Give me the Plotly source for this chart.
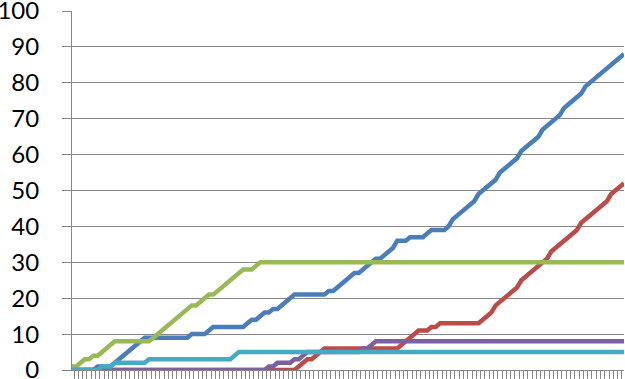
import plotly.graph_objects as go

categories = [str(i + 1) for i in range(130)]

series1 = [0, 0, 0, 0, 0, 0, 1, 1, 1, 1,
           2, 3, 4, 5, 6, 7, 8, 9, 9, 9,
           9, 9, 9, 9, 9, 9, 9, 9, 10, 10,
           10, 10, 11, 12, 12, 12, 12, 12, 12, 12,
           12, 13, 14, 14, 15, 16, 16, 17, 17, 18,
           19, 20, 21, 21, 21, 21, 21, 21, 21, 21,
           22, 22, 23, 24, 25, 26, 27, 27, 28, 29,
           30, 31, 31, 32, 33, 34, 36, 36, 36, 37,
           37, 37, 37, 38, 39, 39, 39, 39, 40, 42,
           43, 44, 45, 46, 47, 49, 50, 51, 52, 53,
           55, 56, 57, 58, 59, 61, 62, 63, 64, 65,
           67, 68, 69, 70, 71, 73, 74, 75, 76, 77,
           79, 80, 81, 82, 83, 84, 85, 86, 87, 88]

series2 = [0] * 53 + [1, 2, 3, 3, 4, 5, 6,
           6, 6, 6, 6, 6, 6, 6, 6, 6, 6,
           6, 6, 6, 6, 6, 6, 6, 7, 8, 9,
           10, 11, 11, 11, 12, 12, 13, 13, 13, 13,
           13, 13, 13, 13, 13, 13, 14, 15, 16, 18,
           19, 20, 21, 22, 23, 25, 26, 27, 28, 29,
           30, 31, 33, 34, 35, 36, 37, 38, 39, 41,
           42, 43, 44, 45, 46, 47, 49, 50, 51, 52]

series3 = [1, 1, 2, 3, 3, 4, 4, 5, 6, 7,
           8, 8, 8, 8, 8, 8, 8, 8, 8, 9,
           10, 11, 12, 13, 14, 15, 16, 17, 18, 18,
           19, 20, 21, 21, 22, 23, 24, 25, 26, 27,
           28, 28, 28, 29] + [30] * 86

series4 = [0] * 46 + [1, 1, 2, 2, 2, 2, 3, 3, 4, 5,
                      5, 5, 5, 5, 5, 5, 5, 5, 5, 5,
                      5, 5, 6, 6, 7] + [8] * 59

series5 = [0, 0, 0, 0, 0, 0, 0, 1, 1, 1,
           2, 2, 2, 2, 2, 2, 2, 2] + [3] * 20 + [4] + [5] * 91

names = ["Series1", "Series2", "Series3", "Series4", "Series5"]
colors = ["#4A7EBB", "#BE4B48", "#98B954", "#7D60A0", "#46AAC5"]
y_ticks = [0, 10, 20, 30, 40, 50, 60, 70, 80, 90, 100]

fig = go.Figure()
for name, vals, col in zip(names, [series1, series2, series3, series4, series5], colors):
    fig.add_trace(go.Scatter(x=categories, y=vals, mode="lines", name=name,
                             line=dict(color=col, width=4.5), showlegend=False))

fig.update_layout(
    width=625, height=379,
    margin=dict(l=72, r=1, t=11, b=9),
    paper_bgcolor="white", plot_bgcolor="white",
    font=dict(family="Lato", color="#000000"),
)
fig.update_xaxes(
    type="category", tickson="boundaries", showticklabels=False,
    tickmode="linear", tick0=0, dtick=1,
    ticks="outside", ticklen=9, tickcolor="#868686", tickwidth=1,
    showline=True, linecolor="#868686", linewidth=1,
    showgrid=False, zeroline=False, automargin=False,
)
fig.update_yaxes(
    range=[0, 100], tickvals=y_ticks, ticktext=[str(v) for v in y_ticks],
    ticks="outside", ticklen=9, tickcolor="#868686", tickwidth=1,
    showline=True, linecolor="#868686", linewidth=1,
    showgrid=True, gridcolor="#868686", gridwidth=1, zeroline=False,
    tickfont=dict(size=24, family="Lato", color="#000000"),
    ticklabelstandoff=18, ticklabeloverflow="allow", automargin=False,
)

fig.write_html("out.html", config={"displayModeBar": False},
               post_script="document.body.style.margin='0';")
